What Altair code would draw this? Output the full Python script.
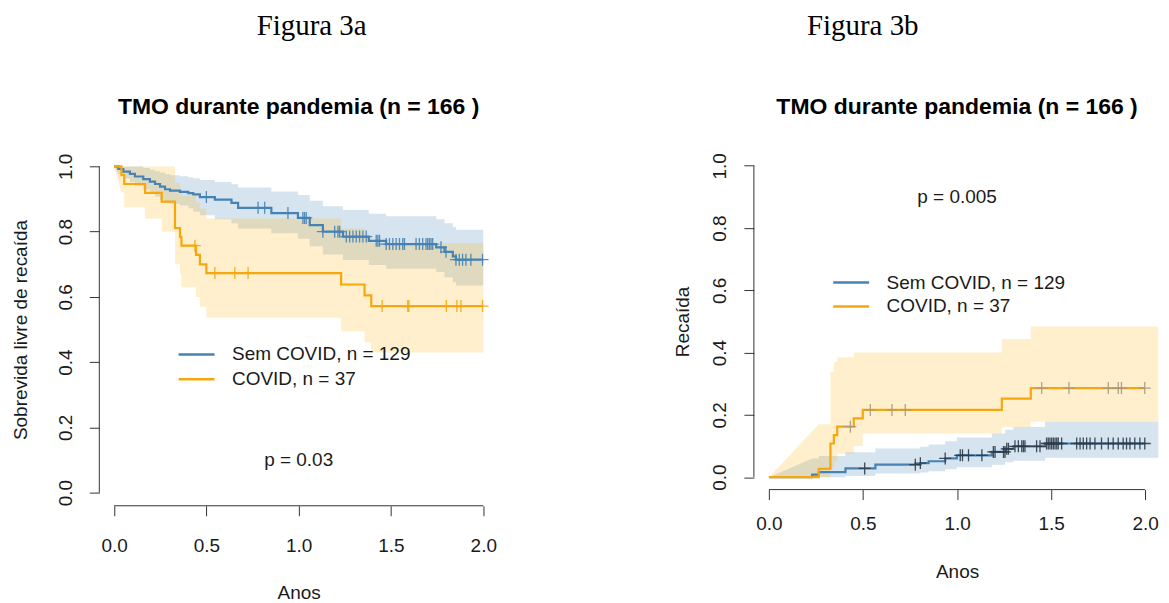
import altair as alt
import numpy as np
import pandas as pd

# ---------------- colours / fonts ----------------
BLUE = "#4682B4"
ORANGE = "#F5A70D"
BAND_BLUE = "#4682B4"
BAND_ORANGE = "#FFB619"
AX = "#333333"
TXT = "#1a1a1a"
FONT = "Liberation Sans"
SERIF = "Liberation Serif"

GROUPS = ["Sem COVID, n = 129", "COVID, n = 37"]
x_ticks = [0.0, 0.5, 1.0, 1.5, 2.0]
y_ticks = [0.0, 0.2, 0.4, 0.6, 0.8, 1.0]

# ---------------- Figura 3a : relapse-free survival ----------------
a_sem_time = [0.0, 0.023, 0.05, 0.086, 0.113, 0.158, 0.194, 0.222, 0.249, 0.276, 0.303, 0.357, 0.402, 0.429,
              0.465, 0.546, 0.636, 0.672, 0.852, 0.996, 1.06, 1.131, 1.24, 1.38, 1.474, 1.745, 1.79, 1.835, 1.852]
a_sem_surv = [1.0, 0.992, 0.984, 0.977, 0.969, 0.961, 0.953, 0.946, 0.938, 0.930, 0.926, 0.922, 0.918, 0.914,
              0.906, 0.898, 0.888, 0.873, 0.857, 0.842, 0.82, 0.80, 0.785, 0.772, 0.762, 0.752, 0.738, 0.724, 0.714]
a_sem_upper = [1.0, 1.0, 1.0, 1.0, 1.0, 0.995, 0.99, 0.985, 0.981, 0.976, 0.973, 0.97, 0.967, 0.964,
               0.958, 0.952, 0.945, 0.935, 0.923, 0.912, 0.895, 0.878, 0.866, 0.855, 0.847, 0.838, 0.826, 0.814, 0.806]
a_sem_lower = [1.0, 0.977, 0.963, 0.951, 0.94, 0.929, 0.918, 0.908, 0.897, 0.887, 0.885, 0.88, 0.872, 0.862,
               0.85, 0.838, 0.826, 0.81, 0.795, 0.778, 0.755, 0.73, 0.713, 0.698, 0.686, 0.676, 0.66, 0.645, 0.635]
a_sem_cens = [0.50, 0.78, 0.816, 0.942, 1.023, 1.032, 1.041, 1.131, 1.195, 1.213, 1.222, 1.258, 1.276, 1.294,
              1.312, 1.33, 1.348, 1.366, 1.42, 1.429, 1.438, 1.474, 1.492, 1.51, 1.528, 1.546, 1.564, 1.573,
              1.636, 1.654, 1.672, 1.69, 1.699, 1.708, 1.717, 1.726, 1.771, 1.798, 1.852, 1.87, 1.888, 1.906,
              1.933, 1.996]

a_cov_time = [0.0, 0.04, 0.055, 0.168, 0.258, 0.33, 0.357, 0.365, 0.444, 0.465, 0.50, 1.23, 1.357, 1.393]
a_cov_surv = [1.0, 0.973, 0.946, 0.919, 0.892, 0.811, 0.784, 0.757, 0.729, 0.700, 0.673, 0.638, 0.605, 0.572]
a_cov_upper = [1.0, 1.0, 1.0, 1.0, 1.0, 0.95, 0.93, 0.91, 0.89, 0.87, 0.84, 0.81, 0.79, 0.765]
a_cov_lower = [1.0, 0.92, 0.875, 0.84, 0.80, 0.70, 0.67, 0.63, 0.60, 0.57, 0.536, 0.495, 0.46, 0.43]
a_cov_cens = [0.438, 0.546, 0.654, 0.726, 1.452, 1.591, 1.597, 1.80, 1.857, 1.879, 1.996]

# ---------------- Figura 3b : cumulative incidence of relapse ----------------
b_sem_time = [0.0, 0.23, 0.265, 0.407, 0.566, 0.805, 0.849, 0.937, 0.999, 1.185, 1.256, 1.30, 1.468]
b_sem_inc = [0.0, 0.008, 0.016, 0.028, 0.040, 0.045, 0.051, 0.060, 0.070, 0.081, 0.091, 0.099, 0.108]
b_sem_upper = [0.0, 0.06, 0.068, 0.08, 0.092, 0.098, 0.105, 0.115, 0.127, 0.14, 0.152, 0.161, 0.178]
b_sem_lower = [0.0, 0.0, 0.0, 0.004, 0.012, 0.015, 0.019, 0.025, 0.032, 0.040, 0.048, 0.053, 0.062]
b_sem_cens = [0.509, 0.778, 0.805, 0.937, 1.017, 1.029, 1.061, 1.132, 1.193, 1.202, 1.247, 1.255, 1.264,
              1.273, 1.308, 1.326, 1.344, 1.353, 1.361, 1.423, 1.441, 1.476, 1.485, 1.494, 1.503, 1.512,
              1.521, 1.53, 1.538, 1.556, 1.636, 1.654, 1.671, 1.689, 1.707, 1.733, 1.768, 1.804, 1.83,
              1.857, 1.883, 1.901, 1.919, 1.945, 1.972, 1.998]

b_cov_time = [0.0, 0.265, 0.327, 0.345, 0.363, 0.451, 0.499, 1.238, 1.392]
b_cov_inc = [0.0, 0.027, 0.108, 0.135, 0.162, 0.189, 0.216, 0.252, 0.286]
b_cov_upper = [0.0, 0.17, 0.338, 0.37, 0.385, 0.40, 0.40, 0.444, 0.484]
b_cov_lower = [0.0, 0.0, 0.03, 0.05, 0.075, 0.10, 0.14, 0.16, 0.178]
b_cov_cens = [0.433, 0.539, 0.654, 0.725, 1.45, 1.595, 1.804, 1.857, 1.874, 1.998]

T_END = 2.0


# ---------------- helpers (reshape the arrays into tables) ----------------
def band_table(times, lower, upper, t_end, grp):
    rows = [(times[0], lower[0], upper[0])]
    for i in range(1, len(times)):
        rows.append((times[i], lower[i], upper[i]))
        nxt = times[i + 1] if i + 1 < len(times) else t_end
        rows.append((nxt, lower[i], upper[i]))
    df = pd.DataFrame(rows, columns=["t", "lo", "hi"])
    df["grp"] = grp
    return df


def line_table(times, vals, t_end, grp):
    return pd.DataFrame({"t": list(times) + [t_end], "v": list(vals) + [vals[-1]], "grp": grp})


def cens_table(times, vals, cens, grp):
    idx = np.searchsorted(np.array(times), np.array(cens), side="right") - 1
    return pd.DataFrame({"t": cens, "v": np.array(vals)[idx], "grp": grp})


CROSS = "M-1,0L1,0M0,-1L0,1"


def panel(series, band_end, cens_colors, W, H, y_title, y_title_x, x_lab_pad, x_title_y,
          legend_x, legend_y, clip_h, p_text, p_x, p_y, fig_label, fig_x, title_y):
    xs = alt.Scale(domain=[-0.08, 2.08], nice=False, zero=False)
    ys = alt.Scale(domain=[-0.04, 1.04], nice=False, zero=False)
    x_axis = alt.Axis(values=x_ticks, format=".1f", domain=False, grid=False, tickSize=10,
                      tickColor=AX, tickWidth=1, labelFont=FONT, labelFontSize=19, labelColor=TXT,
                      labelPadding=x_lab_pad, labelBaseline="middle", labelAlign="center",
                      labelFlush=False, labelOverlap=False, title="Anos", titleFont=FONT,
                      titleFontSize=19, titleFontWeight="normal", titleColor=TXT, titleX=W / 2,
                      titleY=x_title_y, titleBaseline="middle", titleAlign="center")
    y_axis = alt.Axis(values=y_ticks, format=".1f", domain=False, grid=False, tickSize=10,
                      tickColor=AX, tickWidth=1, labelFont=FONT, labelFontSize=19, labelColor=TXT,
                      labelAngle=270, labelAlign="center", labelBaseline="middle", labelPadding=24,
                      labelFlush=False, labelOverlap=False, title=y_title, titleFont=FONT,
                      titleFontSize=19, titleFontWeight="normal", titleColor=TXT, titleAngle=270,
                      titleX=y_title_x, titleY=H / 2, titleBaseline="middle", titleAlign="center")
    X = alt.X("t:Q", scale=xs, axis=x_axis)
    Y = alt.Y("v:Q", scale=ys, axis=y_axis)

    lines = pd.concat([line_table(s["time"], s["val"], T_END, s["grp"]) for s in series])
    cens = pd.concat([cens_table(s["time"], s["val"], s["cens"], s["grp"]) for s in series])

    band_layers = []
    for s, col in zip(series, [BAND_BLUE, BAND_ORANGE]):
        bt = band_table(s["time"], s["lower"], s["upper"], band_end, s["grp"])
        band_layers.append(
            alt.Chart(bt).mark_area(interpolate="linear", color=col, fillOpacity=0.22, opacity=1).encode(
                x=X,
                y=alt.Y("lo:Q", scale=ys, axis=y_axis),
                y2="hi:Q",
            )
        )

    line = alt.Chart(lines).mark_line(interpolate="step-after", strokeWidth=2.2).encode(
        x=X, y=Y,
        color=alt.Color("grp:N", scale=alt.Scale(domain=GROUPS, range=[BLUE, ORANGE]),
                        legend=alt.Legend(orient="none", legendX=legend_x, legendY=legend_y, title=None,
                                          symbolType="stroke", symbolSize=1296, symbolStrokeWidth=2.5,
                                          labelFont=FONT, labelFontSize=19, labelColor=TXT, labelLimit=0,
                                          labelOffset=16, clipHeight=clip_h, rowPadding=0, padding=0,
                                          symbolOffset=0)),
    )
    marks = alt.Chart(cens).mark_point(shape=CROSS, filled=False, size=144, strokeWidth=1.3, opacity=0.9).encode(
        x=X, y=Y,
        stroke=alt.Stroke("grp:N", scale=alt.Scale(domain=GROUPS, range=cens_colors), legend=None),
    )

    x_line = alt.Chart(pd.DataFrame({"a": [x_ticks[0]], "b": [x_ticks[-1]]})).mark_rule(
        color=AX, strokeWidth=1).encode(x=alt.X("a:Q", scale=xs, axis=x_axis), x2="b:Q", y=alt.value(H))
    y_line = alt.Chart(pd.DataFrame({"a": [y_ticks[0]], "b": [y_ticks[-1]]})).mark_rule(
        color=AX, strokeWidth=1).encode(y=alt.Y("a:Q", scale=ys, axis=y_axis), y2="b:Q", x=alt.value(0))

    p = alt.Chart(pd.DataFrame({"t": [p_x], "v": [p_y], "lab": [p_text]})).mark_text(
        font=FONT, fontSize=19, color=TXT, align="center", baseline="middle").encode(x=X, y=Y, text="lab:N")

    fig = alt.Chart(pd.DataFrame({"lab": [fig_label]})).mark_text(
        font=SERIF, fontSize=29, color="black", align="center", baseline="alphabetic").encode(
        x=alt.value(fig_x), y=alt.value(-118.4), text="lab:N")
    ttl = alt.Chart(pd.DataFrame({"lab": ["TMO durante pandemia (n = 166 )"]})).mark_text(
        font=FONT, fontSize=23, fontWeight="bold", color="black", align="center", baseline="alphabetic").encode(
        x=alt.value(W / 2), y=alt.value(title_y), text="lab:N")

    return alt.layer(*band_layers, line, marks, x_line, y_line, p, fig, ttl).resolve_scale(
        color="independent", stroke="independent"
    ).properties(width=W, height=H)


series_a = [
    dict(grp=GROUPS[0], time=a_sem_time, val=a_sem_surv, upper=a_sem_upper, lower=a_sem_lower, cens=a_sem_cens),
    dict(grp=GROUPS[1], time=a_cov_time, val=a_cov_surv, upper=a_cov_upper, lower=a_cov_lower, cens=a_cov_cens),
]
series_b = [
    dict(grp=GROUPS[0], time=b_sem_time, val=b_sem_inc, upper=b_sem_upper, lower=b_sem_lower, cens=b_sem_cens),
    dict(grp=GROUPS[1], time=b_cov_time, val=b_cov_inc, upper=b_cov_upper, lower=b_cov_lower, cens=b_cov_cens),
]

left = panel(series_a, 2.0, [BLUE, ORANGE], 399.6, 353.2, "Sobrevida livre de recaída", -79.2, 29.9, 86.9,
             78, 189, 25, "p = 0.03", 1.0, 0.1, "Figura 3a", 212.8, -39.9)
right = panel(series_b, 2.07, ["#2F3B4A", "#A89A80"], 407.2, 337.0, "Recaída", -71.9, 23.5, 82.5,
              78, 117.5, 24, "p = 0.005", 1.0, 0.9, "Figura 3b", 109.1, -39.5)

chart = alt.hconcat(left, right, spacing=175).resolve_scale(
    x="independent", y="independent", color="independent", stroke="independent"
).resolve_legend(color="independent").properties(
    padding={"left": 2.5, "top": 3, "right": 0, "bottom": 0},
    background="white",
).configure_view(stroke=None, strokeWidth=0)

chart.save("out.html", embed_options={"renderer": "svg", "actions": False})
